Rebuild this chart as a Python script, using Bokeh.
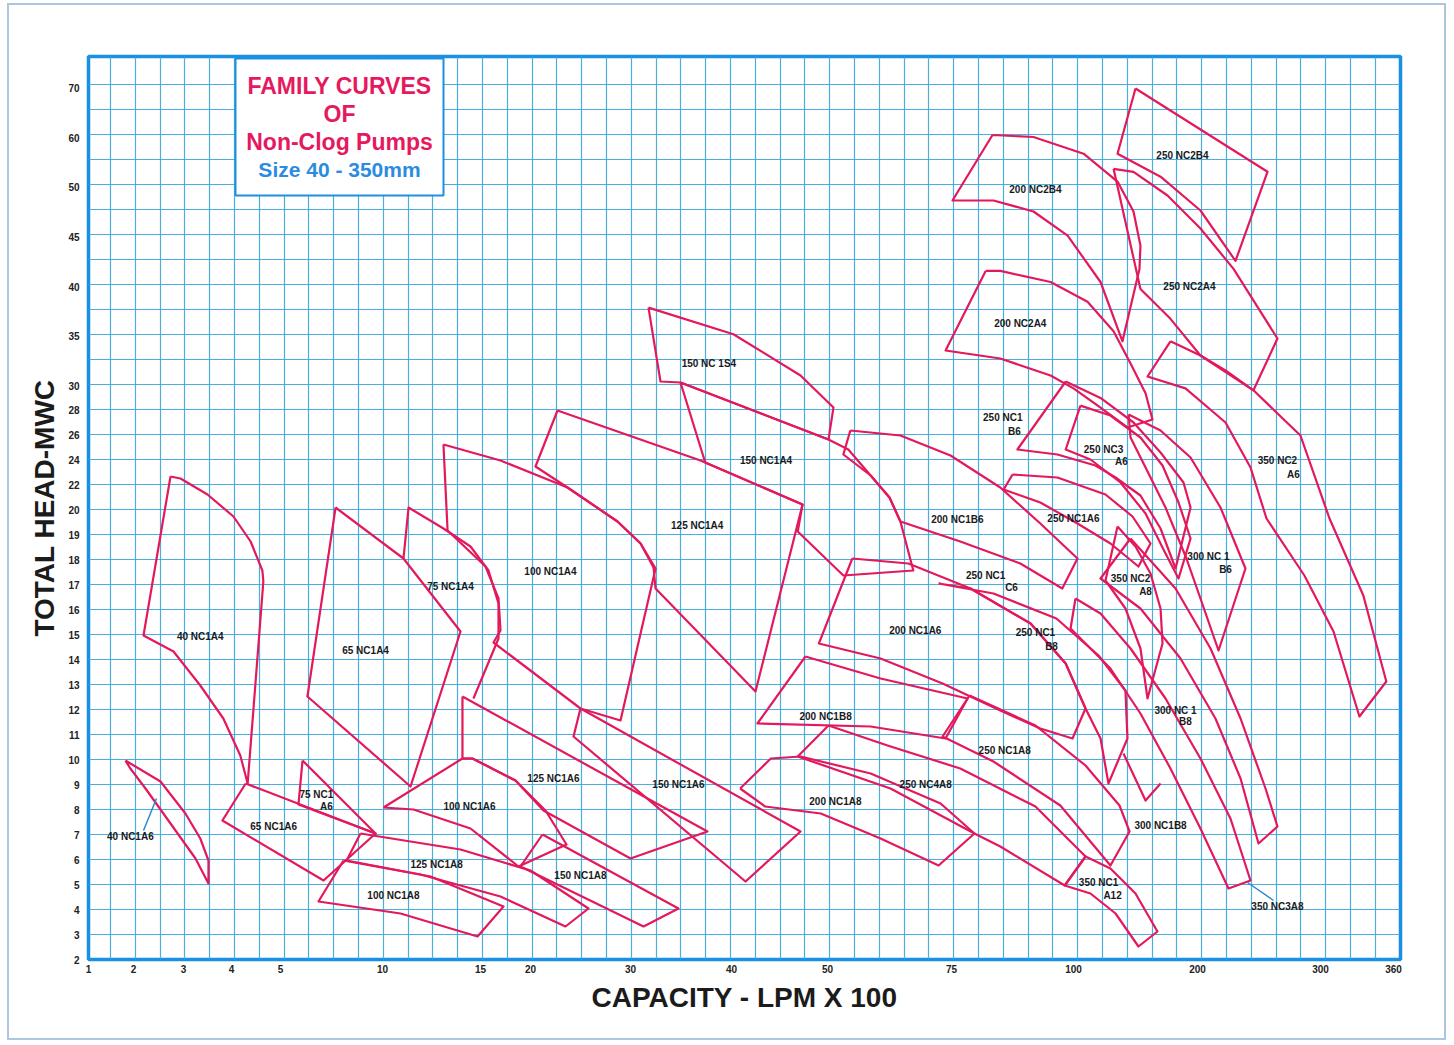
import numpy as np
from bokeh.plotting import figure
from bokeh.models import FixedTicker, Label
from bokeh.core.properties import value
from bokeh.embed import file_html
from bokeh.resources import INLINE

# ---------------- axis values (chart paper uses a non-uniform scale) ----------------
X_TICKS = [1, 2, 3, 4, 5, 10, 15, 20, 30, 40, 50, 75, 100, 200, 300, 360]
Y_TICKS = [2, 3, 4, 5, 6, 7, 8, 9, 10, 11, 12, 13, 14, 15, 16, 17, 18, 19, 20,
           22, 24, 26, 28, 30, 35, 40, 45, 50, 60, 70]
# where each tick value sits on the printed paper (scale definition)
X_SCALE_POS = [0, 45, 95, 143, 192, 294, 392, 442, 542, 643, 739, 863, 985, 1109, 1232, 1305]
Y_SCALE_POS = [0, 25, 50, 75, 100, 125, 150, 175, 200, 225, 250, 275, 300, 325, 350, 375,
               400, 425, 450, 475, 500, 525, 550, 574, 624, 673, 723, 773, 822, 872]

# ---------------- pump operating envelopes: capacity (LPM x 100) / head (m) ----------------
P40_NC1A4_Q = [2.74, 2.94, 3.5, 4.04, 4.39, 4.63, 4.65, 4.33, 4.18, 3.83, 3.35, 2.8, 2.2]
P40_NC1A4_H = [22.64, 22.48, 21.2, 19.72, 18.72, 17.56, 17.12, 9.04, 10.16, 11.64, 12.96, 14.32, 14.96]
P40_NC1A6_Q = [1.82, 2.54, 3.04, 3.35, 3.52, 3.52, 3.25, 2.74, 2.24, 1.93]
P40_NC1A6_H = [9.96, 9.12, 7.84, 6.84, 5.96, 5.04, 6.04, 7.44, 8.84, 9.64]
P65_NC1A4_Q = [7.7, 11.07, 13.98, 11.43, 6.32]
P65_NC1A4_H = [20.16, 18.04, 15.12, 8.92, 12.52]
P65_NC1A6_Q = [4.29, 9.66, 7.11, 3.81]
P65_NC1A6_H = [9.04, 7.04, 5.16, 7.56]
P75_NC1A6_Q = [6.08, 9.66, 5.88]
P75_NC1A6_H = [9.96, 7.04, 8.2]
P75_NC1A4_Q = [11.07, 11.33, 13.11, 14.49, 15.8, 16.8, 16.8, 14.64]
P75_NC1A4_H = [18.04, 20.16, 19.24, 18.52, 17.56, 16.24, 14.84, 12.44]
P100_NC1A4_Q = [13.11, 17.0, 23.7, 28.7, 31.0, 32.48, 29.0, 25.0, 16.3, 17.0, 16.8, 15.5, 13.32]
P100_NC1A4_H = [25.2, 23.92, 21.76, 19.52, 18.64, 17.64, 11.56, 12.04, 14.68, 15.16, 16.44, 17.72, 19.16]
P100_NC1A6_Q = [10.05, 14.08, 14.59, 18.5, 21.5, 23.6, 18.8, 14.49, 11.58]
P100_NC1A6_H = [8.08, 10.04, 10.04, 9.16, 7.96, 6.6, 5.72, 7.24, 8.0]
P100_NC1A8_Q = [8.09, 12.45, 17.3, 14.85, 10.92, 6.86]
P100_NC1A8_H = [5.96, 5.32, 4.12, 2.92, 3.84, 4.32]
P125_NC1A4_Q = [22.7, 36.93, 47.4, 42.5, 32.48, 32.28, 31.0, 28.7, 23.7, 20.5]
P125_NC1A4_H = [27.92, 23.92, 20.4, 12.72, 16.84, 17.68, 18.64, 19.52, 21.76, 23.44]
P125_NC1A6_Q = [14.08, 37.62, 30.0, 21.3, 18.5, 14.59, 14.08]
P125_NC1A6_H = [12.52, 7.12, 6.04, 7.96, 9.16, 10.04, 10.04]
P125_NC1A8_Q = [8.92, 13.98, 20.0, 25.8, 23.5, 17.0, 11.94, 8.24]
P125_NC1A8_H = [7.04, 6.4, 5.56, 4.04, 3.32, 4.52, 5.4, 5.96]
P150_NC1S4_Q = [31.78, 40.2, 47.19, 51.2, 50.2, 34.95, 32.97]
P150_NC1S4_H = [37.84, 35.13, 31.0, 28.16, 25.6, 30.3, 30.4]
P150_NC1A4_Q = [34.95, 50.2, 54.2, 58.7, 62.5, 64.7, 67.3, 53.2, 46.9, 47.4, 37.4]
P150_NC1A4_H = [30.3, 25.6, 24.8, 22.72, 20.96, 19.52, 17.56, 17.36, 19.12, 20.4, 23.76]
P150_NC1A6_Q = [25.0, 47.19, 41.46, 24.3]
P150_NC1A6_H = [12.04, 7.12, 5.12, 10.92]
P150_NC1A8_Q = [21.2, 34.75, 31.29, 19.0]
P150_NC1A8_H = [7.0, 4.04, 3.32, 5.72]
P200_NC1B6_Q = [54.6, 64.7, 74.8, 85.0, 93.2, 103.2, 97.7, 89.1, 76.8, 64.7, 62.5, 58.7, 53.2]
P200_NC1B6_H = [26.32, 25.92, 24.32, 21.76, 19.44, 18.04, 16.84, 17.84, 18.72, 19.52, 20.96, 22.72, 24.4]
P200_NC1A6_Q = [55.0, 66.3, 78.9, 91.2, 98.4, 109.7, 99.8, 93.2, 85.0, 73.2, 60.7, 49.1]
P200_NC1A6_H = [18.04, 17.84, 16.84, 15.44, 13.84, 12.04, 10.84, 11.24, 11.96, 13.04, 14.04, 14.64]
P200_NC1B8_Q = [47.7, 60.7, 78.3, 73.8, 58.7, 42.7]
P200_NC1B8_H = [14.12, 13.24, 12.44, 10.84, 11.32, 11.44]
P200_NC1A8_Q = [40.9, 44.1, 47.2, 58.7, 72.8, 79.7, 72.4, 60.7, 49.3, 43.5]
P200_NC1A8_H = [8.84, 10.04, 10.12, 9.44, 8.24, 7.04, 5.76, 6.84, 7.84, 8.12]
P200_NC2B4_Q = [83.4, 91.8, 108.1, 135.5, 148.4, 154.0, 153.2, 139.5, 121.8, 98.8, 91.8, 83.6, 75.2]
P200_NC2B4_H = [60.5, 60.1, 56.7, 51.0, 47.5, 44.07, 41.76, 34.42, 40.45, 45.08, 47.5, 48.6, 48.6]
P200_NC2A4_Q = [82.0, 85.0, 95.3, 111.3, 132.3, 146.0, 158.1, 163.7, 143.5, 121.8, 100.0, 95.3, 85.0, 73.8]
P200_NC2A4_H = [41.56, 41.56, 40.45, 38.44, 35.43, 32.2, 29.36, 27.2, 26.56, 28.16, 29.76, 31.0, 32.7, 33.5]
P250_NC2B4_Q = [150.0, 256.9, 230.9, 202.4, 170.2, 135.5]
P250_NC2B4_H = [69.8, 53.0, 42.56, 47.6, 52.0, 56.7]
P250_NC2A4_Q = [132.3, 148.4, 175.8, 202.4, 229.3, 265.0, 245.5, 222.8, 202.4, 178.2, 154.0]
P250_NC2A4_H = [53.6, 53.0, 49.1, 45.8, 41.76, 34.7, 29.6, 31.5, 33.0, 36.7, 39.75]
P350_NC2A6_Q = [178.2, 202.4, 245.5, 283.7, 307.4, 335.2, 354.1, 332.0, 310.7, 286.9, 256.1, 243.1, 222.8, 190.3, 159.7]
P350_NC2A6_H = [34.42, 33.0, 29.6, 25.92, 19.64, 16.56, 13.12, 11.72, 15.12, 17.36, 19.64, 23.36, 26.96, 29.76, 30.9]
P250_NC1B6_Q = [98.4, 121.8, 148.4, 170.2, 188.7, 194.4, 182.3, 170.2, 154.0, 133.9, 117.7, 96.7, 88.5]
P250_NC1B6_H = [30.4, 28.96, 26.96, 24.56, 22.16, 20.16, 17.64, 19.24, 21.12, 22.56, 23.52, 24.4, 24.8]
P250_NC3A6_Q = [105.6, 129.8, 154.0, 171.8, 184.7, 194.4, 184.7, 174.2, 158.1, 137.9, 113.7, 98.4]
P250_NC3A6_H = [28.32, 27.52, 25.76, 23.52, 20.56, 18.84, 17.24, 18.24, 19.84, 22.16, 24.0, 24.8]
P300_NC1B6_Q = [144.4, 170.2, 194.4, 218.7, 239.0, 217.1, 202.4, 191.1, 174.2, 158.1, 146.0]
P300_NC1B6_H = [27.6, 26.32, 24.16, 20.16, 17.64, 14.36, 16.44, 18.04, 20.16, 23.36, 25.76]
P250_NC1A6_Q = [87.5, 96.7, 125.8, 147.6, 162.1, 152.4, 129.8, 103.2, 93.2, 85.7]
P250_NC1A6_H = [22.8, 22.56, 21.2, 19.72, 18.64, 17.72, 18.64, 19.44, 20.56, 21.6]
P350_NC2A8_Q = [135.5, 150.0, 162.1, 170.2, 171.8, 159.7, 154.0, 141.9, 125.8]
P350_NC2A8_H = [19.32, 18.52, 17.44, 16.04, 14.64, 12.44, 14.44, 16.04, 17.16]
P250_NC1C6_Q = [72.4, 83.6, 96.5, 120.2, 141.9, 143.5, 128.2, 121.8, 109.7, 98.4, 91.2, 78.9]
P250_NC1C6_H = [17.04, 16.64, 15.64, 14.16, 12.76, 10.84, 9.04, 10.84, 12.04, 13.84, 15.44, 16.84]
P300_NC1B8U_Q = [146.0, 182.3, 210.6, 235.0, 255.3, 265.0, 249.6, 235.0, 214.6, 186.3, 154.0, 121.8]
P300_NC1B8U_H = [18.84, 16.84, 14.44, 11.64, 8.84, 7.32, 6.64, 9.24, 11.64, 14.04, 16.04, 17.24]
P350_NC3A8_Q = [101.6, 121.8, 146.0, 174.2, 202.4, 226.8, 243.1, 225.2, 202.4, 178.2, 154.0, 129.8, 99.4]
P350_NC3A8_H = [16.44, 15.84, 14.44, 12.44, 10.04, 7.64, 5.16, 4.84, 7.24, 9.64, 11.84, 13.64, 15.24]
P300_NC1B8_Q = [140.3, 158.1, 170.2]
P300_NC1B8_H = [10.24, 8.36, 9.04]
P250_NC1A8_Q = [78.7, 92.2, 109.7, 137.1, 145.2, 129.8, 97.3, 83.6, 73.2]
P250_NC1A8_H = [12.56, 11.36, 9.76, 8.16, 7.12, 5.76, 8.16, 9.92, 10.92]
P250_NC4A8_Q = [50.2, 62.1, 76.8, 92.2, 109.7, 98.2, 85.0, 79.7, 62.7, 46.9]
P250_NC4A8_H = [11.36, 10.56, 9.64, 8.12, 6.12, 4.96, 6.52, 7.04, 8.84, 10.12]
P350_NC1A12_Q = [98.2, 109.7, 129.8, 150.0, 167.7, 152.4, 133.9, 113.7]
P350_NC1A12_H = [4.96, 6.12, 5.64, 4.64, 3.12, 2.52, 3.84, 4.64]

# (capacity list, head list, closed outline?)
CURVES = [
    (P40_NC1A4_Q, P40_NC1A4_H, True), (P40_NC1A6_Q, P40_NC1A6_H, True),
    (P65_NC1A4_Q, P65_NC1A4_H, True), (P65_NC1A6_Q, P65_NC1A6_H, True),
    (P75_NC1A6_Q, P75_NC1A6_H, True), (P75_NC1A4_Q, P75_NC1A4_H, False),
    (P100_NC1A4_Q, P100_NC1A4_H, True), (P100_NC1A6_Q, P100_NC1A6_H, True),
    (P100_NC1A8_Q, P100_NC1A8_H, True), (P125_NC1A4_Q, P125_NC1A4_H, True),
    (P125_NC1A6_Q, P125_NC1A6_H, True), (P125_NC1A8_Q, P125_NC1A8_H, True),
    (P150_NC1S4_Q, P150_NC1S4_H, True), (P150_NC1A4_Q, P150_NC1A4_H, True),
    (P150_NC1A6_Q, P150_NC1A6_H, True), (P150_NC1A8_Q, P150_NC1A8_H, True),
    (P200_NC1B6_Q, P200_NC1B6_H, True), (P200_NC1A6_Q, P200_NC1A6_H, True),
    (P200_NC1B8_Q, P200_NC1B8_H, True), (P200_NC1A8_Q, P200_NC1A8_H, True),
    (P200_NC2B4_Q, P200_NC2B4_H, True), (P200_NC2A4_Q, P200_NC2A4_H, True),
    (P250_NC2B4_Q, P250_NC2B4_H, True), (P250_NC2A4_Q, P250_NC2A4_H, True),
    (P350_NC2A6_Q, P350_NC2A6_H, True), (P250_NC1B6_Q, P250_NC1B6_H, True),
    (P250_NC3A6_Q, P250_NC3A6_H, True), (P300_NC1B6_Q, P300_NC1B6_H, True),
    (P250_NC1A6_Q, P250_NC1A6_H, True), (P350_NC2A8_Q, P350_NC2A8_H, True),
    (P250_NC1C6_Q, P250_NC1C6_H, True), (P300_NC1B8U_Q, P300_NC1B8U_H, True),
    (P350_NC3A8_Q, P350_NC3A8_H, True), (P300_NC1B8_Q, P300_NC1B8_H, False),
    (P250_NC1A8_Q, P250_NC1A8_H, True), (P250_NC4A8_Q, P250_NC4A8_H, True),
    (P350_NC1A12_Q, P350_NC1A12_H, True),
]

# ---------------- curve labels ----------------
LABEL_TEXT = ["40 NC1A4", "40 NC1A6", "65 NC1A4", "65 NC1A6", "75 NC1", "A6", "75 NC1A4",
              "100 NC1A4", "100 NC1A6", "100 NC1A8", "125 NC1A4", "125 NC1A6", "125 NC1A8",
              "150  NC 1S4", "150 NC1A4", "150 NC1A6", "150 NC1A8", "200 NC1B6", "200 NC1A6",
              "200 NC1B8", "200 NC1A8", "200 NC2B4", "200 NC2A4", "250 NC2B4", "250 NC2A4",
              "250 NC1", "B6", "250 NC3", "A6", "250 NC1A6", "350 NC2", "A6", "300 NC 1", "B6",
              "250 NC1", "C6", "350 NC2", "A8", "250 NC1", "B8", "300 NC 1", "B8", "250 NC1A8",
              "250 NC4A8", "300 NC1B8", "350 NC1", "A12", "350 NC3A8"]
LABEL_Q = [3.35, 1.93, 9.17, 4.86, 6.76, 7.25, 13.47,
           22.0, 14.44, 10.56, 36.6, 22.3, 12.76,
           37.9, 43.6, 34.75, 25.0, 76.2, 67.7,
           49.8, 51.6, 92.2, 89.1, 187.9, 193.5,
           85.5, 87.9, 124.2, 138.7, 100.0, 265.0, 278.0, 208.9, 222.8,
           82.0, 87.3, 146.0, 158.1, 92.2, 95.5, 182.3, 190.3, 85.9,
           69.8, 170.2, 120.2, 131.5, 265.0]
LABEL_H = [14.92, 6.92, 14.36, 7.32, 8.6, 8.12, 16.92,
           17.52, 8.12, 4.56, 19.36, 9.24, 5.8,
           32.2, 23.92, 9.0, 5.36, 19.6, 15.16,
           11.72, 8.32, 49.7, 36.2, 56.3, 40.05,
           27.36, 26.24, 24.8, 23.84, 19.64, 23.92, 22.8, 18.12, 17.6,
           17.36, 16.88, 17.24, 16.72, 15.08, 14.52, 11.96, 11.52, 10.36,
           9.0, 7.36, 5.08, 4.56, 4.12]

# leader lines (label -> curve)
LEADER_Q = [[2.2, 2.46], [261.8, 240.7]]
LEADER_H = [[7.16, 8.44], [4.36, 5.08]]


def mx(q):
    return np.interp(np.asarray(q, dtype=float), X_TICKS, X_SCALE_POS)


def my(h):
    return np.interp(np.asarray(h, dtype=float), Y_TICKS, Y_SCALE_POS)


p = figure(frame_width=1312, frame_height=903, x_range=(0, 1312), y_range=(0, 903),
           output_backend="svg", toolbar_location=None,
           min_border_left=79, min_border_right=44, min_border_top=51, min_border_bottom=79,
           background_fill_color="white", border_fill_color="white")
p.styles = {"border": "2px solid #aec6dd", "margin-left": "7px", "margin-top": "3px"}

p.outline_line_color = "#1a90e2"
p.outline_line_width = 3.5

# paper grid
p.xgrid.ticker = FixedTicker(ticks=list(22 + 24.8 * np.arange(0, 52)))
p.ygrid.ticker = FixedTicker(ticks=list(25 * np.arange(1, 36)))
for g in (p.xgrid, p.ygrid):
    g.grid_line_color = "#36a6dc"
    g.grid_line_width = 1.2
    g.grid_line_alpha = 0.9

# axes
p.xaxis.ticker = FixedTicker(ticks=X_SCALE_POS)
p.xaxis.major_label_overrides = {pos: str(v) for pos, v in zip(X_SCALE_POS, X_TICKS)}
p.yaxis.ticker = FixedTicker(ticks=Y_SCALE_POS)
p.yaxis.major_label_overrides = {pos: str(v) for pos, v in zip(Y_SCALE_POS, Y_TICKS)}
p.xaxis.axis_label = "CAPACITY - LPM X 100"
p.yaxis.axis_label = "TOTAL HEAD-MWC"
for ax in (p.xaxis, p.yaxis):
    ax.axis_line_color = None
    ax.major_tick_line_color = None
    ax.minor_tick_line_color = None
    ax.major_tick_out = 0
    ax.major_tick_in = 0
    ax.minor_tick_out = 0
    ax.minor_tick_in = 0
    ax.major_label_text_font = "Liberation Sans"
    ax.major_label_text_font_style = "bold"
    ax.major_label_text_font_size = "10px"
    ax.major_label_text_color = "#222222"
    ax.axis_label_text_font = "Liberation Sans"
    ax.axis_label_text_font_style = "bold"
    ax.axis_label_text_font_size = "28px"
    ax.axis_label_text_color = "#1b1b1b"
p.xaxis.major_label_standoff = 5
p.yaxis.major_label_standoff = 9
p.xaxis.axis_label_standoff = 6
p.yaxis.axis_label_standoff = 5

# title box
p.quad(left=147, right=355, bottom=764, top=901, fill_color="white",
       line_color="#1e8fe0", line_width=2)
for txt, yy, col, size in [("FAMILY CURVES", 874, "#e5195e", "23px"),
                           ("OF", 846, "#e5195e", "23px"),
                           ("Non-Clog Pumps", 818, "#e5195e", "23px"),
                           ("Size 40 - 350mm", 790, "#2b8be0", "21px")]:
    p.add_layout(Label(x=251, y=yy, text=txt, text_align="center", text_baseline="middle",
                       text_color=col, text_font="Liberation Sans", text_font_style="bold",
                       text_font_size=size))

# pump envelopes
xs, ys = [], []
for q, h, closed in CURVES:
    qq = list(q) + ([q[0]] if closed else [])
    hh = list(h) + ([h[0]] if closed else [])
    xs.append(mx(qq))
    ys.append(my(hh))
p.multi_line(xs, ys, line_color="#e3195b", line_width=2.2, line_join="round")

# leader lines
p.multi_line([mx(q) for q in LEADER_Q], [my(h) for h in LEADER_H],
             line_color="#2a86d0", line_width=1.5)

# labels
p.text(x=mx(LABEL_Q), y=my(LABEL_H), text=LABEL_TEXT,
       text_font=value("Liberation Sans"), text_font_style="bold", text_font_size="10px",
       text_align="center", text_baseline="middle", text_color="#1a1a1a")

html = file_html(p, INLINE, title="Family Curves of Non-Clog Pumps")
open("out.html", "w").write(html)
